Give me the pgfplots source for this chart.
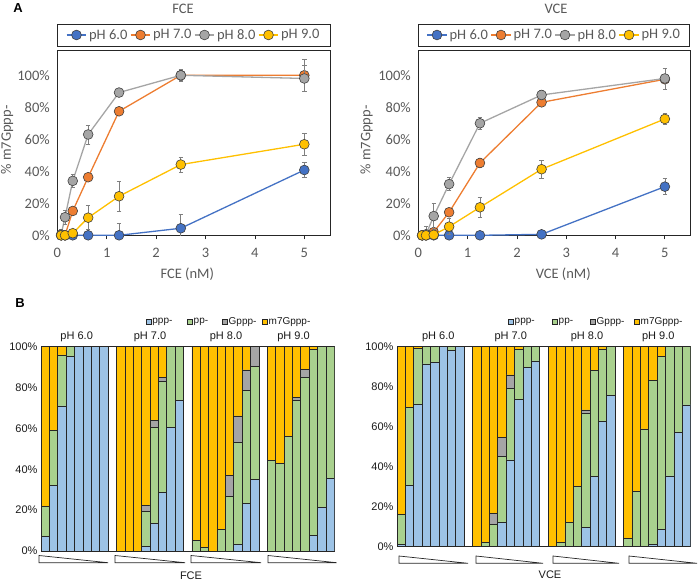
\documentclass[border=0pt]{standalone}
\usepackage{fontspec}
\setmainfont{Carlito}
\newfontfamily\arialf{Liberation Sans}
\usepackage{pgfplots}
\pgfplotsset{compat=1.18}
\usepackage{pgfplotstable}

\definecolor{c6}{HTML}{4472C4}
\definecolor{c7}{HTML}{ED7D31}
\definecolor{c8}{HTML}{A5A5A5}
\definecolor{c9}{HTML}{FFC000}
\definecolor{cppp}{HTML}{9DC3E6}
\definecolor{cpp}{HTML}{A9D18E}
\definecolor{cG}{HTML}{A5A5A5}
\definecolor{cm7}{HTML}{FFC000}
\definecolor{txtA}{HTML}{595959}
\definecolor{txtB}{HTML}{1A1A1A}
\definecolor{frameA}{HTML}{262626}
\definecolor{frameB}{HTML}{262626}
\definecolor{mk}{HTML}{404040}
\definecolor{errc}{HTML}{7F7F7F}
\definecolor{barline}{HTML}{262626}

% Panel A data: x, value and error for each pH
\pgfplotstableread{
x p6 e6 p7 e7 p8 e8 p9 e9
0.078 0 0 0 0 0.5 3 0 0
0.156 0 0 0 0 11.3 4.5 0 0
0.3125 0 0 15.2 2 34 4 1.3 1
0.625 0 0 36.3 2 63 6 11 7.5
1.25 0 7.5 77.5 2 89.2 1.5 24.4 9.5
2.5 4.4 9 100 3 100 4 44.2 4.8
5 40.8 4.6 100 10 98 8 56.9 7
}\fceA
\pgfplotstableread{
x p6 e6 p7 e7 p8 e8 p9 e9
0.078 0 0 0 0 0 1.5 0 0
0.156 0 0 0 0 0.6 5 0 0
0.3125 0 0 2 2 12 8 0.3 1
0.625 0 0 14.4 2 32 4 5.4 5
1.25 0 0 45.2 3 70 3.5 17.5 6
2.5 0.6 1 83.1 1.5 87.7 3 41.3 5.5
5 30.4 5 97.5 2 98 6.5 72.7 3.5
}\vceA

% Panel B data: slot, ppp-, pp-, Gppp-, m7Gppp-
\pgfplotstableread{
x b g gr o
0 7 15 0 78
1 32 27 0 41
2 71 25 0 4
3 95.4 4.6 0 0
4 100 0 0 0
5 100 0 0 0
6 100 0 0 0
7 100 0 0 0
9 0 0 0 100
10 0 0 0 100
11 0 0 0 100
12 2.1 17.1 3.1 77.7
13 13.5 47 3.3 36.2
14 28.7 54.5 1.6 15.2
15 60.4 39.6 0 0
16 73.9 26.1 0 0
18 0 5.1 0 94.9
19 0 1.8 0 98.2
20 0 0 0 100
21 0 10.6 0 89.4
22 0 26.9 10 63.1
23 3.4 49.6 13.1 33.9
24 23.3 55.5 9.8 11.4
25 35.1 55.1 9.8 0
27 0 44.5 0 55.5
28 0 42.9 0 57.1
29 0 56 0 44
30 0 73.6 1.6 24.8
31 0 85 3.9 11.1
32 7.5 91.2 0 1.3
33 21.4 78.6 0 0
34 35.6 64.4 0 0
}\fceB
\pgfplotstableread{
x b g gr o
0 1.2 15.1 0 83.7
1 30.7 38.8 0 30.5
2 71.2 27.8 0 1
3 91.2 8.8 0 0
4 91.8 8.2 0 0
5 100 0 0 0
6 97.8 2.2 0 0
7 100 0 0 0
9 0 0 0 100
10 0 2.2 0 97.8
11 0 11.2 5.5 83.3
12 12 33 9.7 45.3
13 43.3 35.7 6.7 14.3
14 73.7 24.6 0 1.7
15 89.5 10.5 0 0
16 92.7 7.3 0 0
18 0 0 0 100
19 0 2 0 98
20 0 12.3 0 87.7
21 0 30 0 70
22 9.5 57.2 1.6 31.7
23 35 53 0 12
24 62.5 36.2 0 1.3
25 75.3 24.7 0 0
27 0 4.2 0 95.8
28 0 27.5 0 72.5
29 0 58.8 0 41.2
30 1.3 81.5 0 17.2
31 8.8 86.2 0 5
32 35.3 64.7 0 0
33 57 43 0 0
34 70.8 29.2 0 0
}\vceB

\newcommand{\fA}{\fontsize{14.5}{16}\selectfont}
\newcommand{\fB}{\arialf\fontsize{11}{12}\selectfont}

\pgfplotsset{
  Astyle/.style={
    scale only axis, anchor=south west,
    xmin=0, ymin=0, ymax=115.8,
    xtick={0,1,2,3,4,5}, ytick={0,20,40,60,80,100},
    yticklabels={0\%,20\%,40\%,60\%,80\%,100\%},
    /pgf/number format/assume math mode=true,
    tick label style={font=\fA, text=txtA},
    xticklabel style={yshift=-5pt},
    axis line style={draw=frameA, line width=0.9pt},
    xtick pos=bottom, ytick pos=left,
    tick align=outside, major tick length=4pt,
    xtick style={draw=frameA, line width=0.8pt},
    ytick style={draw=none},
    clip mode=individual,
    legend columns=4,
    legend style={at={(0.5,1)}, anchor=center, yshift=15pt, draw=none, fill=none,
      font=\fA, text=txtA, inner sep=0pt,
      /tikz/every even column/.append style={column sep=0.5pt}},
    legend image code/.code={\draw[mark repeat=2,mark phase=2] plot coordinates {(0cm,0cm) (0.35cm,0cm) (0.7cm,0cm)};},
  },
  eb/.style={error bars/.cd, y dir=both, y explicit,
    error bar style={draw=errc, line width=0.7pt, solid},
    error mark options={rotate=90, draw=errc, mark size=2.2pt, line width=0.7pt}},
  s6/.style={color=c6, line width=1.3pt, mark=*, mark size=4.9pt, mark options={fill=c6, draw=mk, line width=0.6pt}},
  s7/.style={color=c7, line width=1.3pt, mark=*, mark size=4.9pt, mark options={fill=c7, draw=mk, line width=0.6pt}},
  s8/.style={color=c8, line width=1.3pt, mark=*, mark size=4.9pt, mark options={fill=c8, draw=mk, line width=0.6pt}},
  s9/.style={color=c9, line width=1.3pt, mark=*, mark size=4.9pt, mark options={fill=c9, draw=mk, line width=0.6pt}},
  Bstyle/.style={
    scale only axis, anchor=south west, ybar stacked, bar width=1,
    xmin=-0.5, xmax=34.5, ymin=0, ymax=100,
    xtick=\empty, ytick={0,20,40,60,80,100},
    yticklabels={0\%,20\%,40\%,60\%,80\%,100\%},
    ytick style={draw=none},
    tick label style={font=\fB, text=txtB},
    axis line style={draw=frameB, line width=0.9pt},
    every axis plot/.append style={draw=barline, line width=0.6pt},
  },
}

\begin{document}
\begin{tikzpicture}
\useasboundingbox (0pt,0pt) rectangle (700pt,583pt);

% ---------------- Panel A, FCE ----------------
\begin{axis}[Astyle, at={(57.3pt,347.7pt)}, width=272.7pt, height=185.3pt, xmax=5.52]
\addplot[s6, eb] table[x=x, y=p6, y error=e6] {\fceA};
\addplot[s7, eb] table[x=x, y=p7, y error=e7] {\fceA};
\addplot[s8, eb] table[x=x, y=p8, y error=e8] {\fceA};
\addplot[s9, eb] table[x=x, y=p9, y error=e9] {\fceA};
\legend{pH 6.0, pH 7.0, pH 8.0, pH 9.0}
\end{axis}

% ---------------- Panel A, VCE ----------------
\begin{axis}[Astyle, at={(418.3pt,347.7pt)}, width=271.7pt, height=185.3pt, xmax=5.51]
\addplot[s6, eb] table[x=x, y=p6, y error=e6] {\vceA};
\addplot[s7, eb] table[x=x, y=p7, y error=e7] {\vceA};
\addplot[s8, eb] table[x=x, y=p8, y error=e8] {\vceA};
\addplot[s9, eb] table[x=x, y=p9, y error=e9] {\vceA};
\legend{pH 6.0, pH 7.0, pH 8.0, pH 9.0}
\end{axis}

% ---------------- Panel B, FCE ----------------
\begin{axis}[Bstyle, at={(41pt,32pt)}, width=293.3pt, height=204.3pt]
\addplot[fill=cppp] table[x=x, y=b] {\fceB};
\addplot[fill=cpp] table[x=x, y=g] {\fceB};
\addplot[fill=cG] table[x=x, y=gr] {\fceB};
\addplot[fill=cm7] table[x=x, y=o] {\fceB};
\end{axis}

% ---------------- Panel B, VCE ----------------
\begin{axis}[Bstyle, at={(397pt,36.3pt)}, width=293.7pt, height=200.4pt]
\addplot[fill=cppp] table[x=x, y=b] {\vceB};
\addplot[fill=cpp] table[x=x, y=g] {\vceB};
\addplot[fill=cG] table[x=x, y=gr] {\vceB};
\addplot[fill=cm7] table[x=x, y=o] {\vceB};
\end{axis}

\begin{scope}[x=1pt,y=1pt]
% Panel A texts and legend frames
\node[font=\arialf\bfseries\fontsize{13}{14}\selectfont] at (18,575) {A};
\node[font=\fA, text=txtA] at (183,574.5) {FCE};
\draw[frameA, line width=0.9pt] (57.3,537) rectangle (330,559);
\node[font=\fA, text=txtA, rotate=90] at (7,443) {\% m7Gppp-};
\node[font=\fA, text=txtA] at (187.3,309) {FCE (nM)};
\node[font=\fA, text=txtA] at (556,574.5) {VCE};
\draw[frameA, line width=0.9pt] (418.3,537) rectangle (689,559);
\node[font=\fA, text=txtA, rotate=90] at (366.7,443) {\% m7Gppp-};
\node[font=\fA, text=txtA] at (563.3,309) {VCE (nM)};

% Panel B, FCE annotations
\node[font=\arialf\bfseries\fontsize{13}{14}\selectfont] at (20,280) {B};
\foreach \xa/\xb in {39/108, 115/185, 191/261, 268/336.7}
  \draw[barline, line width=0.7pt, fill=white] (\xa,27.5) -- (\xa,20.3) -- (\xb,20.3) -- cycle;
\node[font=\fB, text=txtB] at (191,7) {FCE};
\foreach \xc/\lab in {76.7/pH 6.0, 150/pH 7.0, 226/pH 8.0, 293.5/pH 9.0}
  \node[font=\fB, text=txtB] at (\xc,246.5) {\lab};
\begin{scope}[font=\arialf\fontsize{10}{11}\selectfont, text=txtB]
\foreach \xs/\col/\lab in {148.7/cppp/ppp-, 190/cpp/pp-, 225/cG/Gppp-, 265/cm7/m7Gppp-}{
  \draw[barline, line width=0.5pt, fill=\col] (\xs-2.5,258.5) rectangle (\xs+2.5,263.5);
  \node[anchor=west, inner sep=0pt] at (\xs+3.5,261) {\lab};
}
\end{scope}

% Panel B, VCE annotations
\foreach \xa/\xb in {399/468, 476/543, 553/619, 629/697}
  \draw[barline, line width=0.7pt, fill=white] (\xa,27) -- (\xa,19.7) -- (\xb,19.7) -- cycle;
\node[font=\fB, text=txtB] at (550,8) {VCE};
\foreach \xc/\lab in {438.3/pH 6.0, 510.7/pH 7.0, 587/pH 8.0, 658.3/pH 9.0}
  \node[font=\fB, text=txtB] at (\xc,246.5) {\lab};
\begin{scope}[font=\arialf\fontsize{10}{11}\selectfont, text=txtB]
\foreach \xs/\col/\lab in {511/cppp/ppp-, 555/cpp/pp-, 593/cG/Gppp-, 637/cm7/m7Gppp-}{
  \draw[barline, line width=0.5pt, fill=\col] (\xs-2.5,258.5) rectangle (\xs+2.5,263.5);
  \node[anchor=west, inner sep=0pt] at (\xs+3.5,261) {\lab};
}
\end{scope}
\end{scope}
\end{tikzpicture}
\end{document}
